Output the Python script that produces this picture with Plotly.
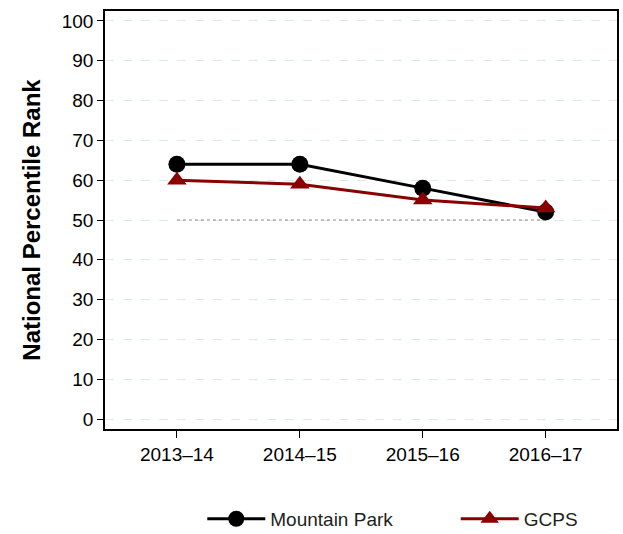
import plotly.graph_objects as go

years = ["2013\u201314", "2014\u201315", "2015\u201316", "2016\u201317"]
mountain_park = [64, 64, 58, 52]
gcps = [60, 59, 55, 53]
national_median = [50, 50, 50, 50]
y_ticks = [0, 10, 20, 30, 40, 50, 60, 70, 80, 90, 100]

fig = go.Figure()

# national median reference line
fig.add_trace(go.Scatter(
    x=years, y=national_median, mode="lines",
    line=dict(color="#888888", width=1.2, dash="dot"),
    showlegend=False, hoverinfo="skip",
))

fig.add_trace(go.Scatter(
    x=years, y=mountain_park, mode="lines+markers", name="Mountain Park",
    line=dict(color="#000000", width=3),
    marker=dict(symbol="circle", size=17, color="#000000"),
    legend="legend",
))

fig.add_trace(go.Scatter(
    x=years, y=gcps, mode="lines+markers", name="GCPS",
    line=dict(color="#8b0000", width=3),
    marker=dict(symbol="triangle-up", size=17, color="#8b0000"),
    legend="legend2",
))

legend_font = dict(family="Liberation Sans Narrow, Liberation Sans, sans-serif",
                   size=19, color="#231f20")

fig.update_layout(
    width=623, height=534,
    margin=dict(l=105, r=6, t=11, b=105, autoexpand=False),
    paper_bgcolor="white", plot_bgcolor="white",
    font=dict(family="Liberation Sans, Arial, sans-serif", color="#000000"),
    legend=dict(
        orientation="h", x=0.19, xanchor="left", y=-0.215, yanchor="middle",
        font=legend_font, itemwidth=58, bgcolor="rgba(0,0,0,0)",
    ),
    legend2=dict(
        orientation="h", x=0.685, xanchor="left", y=-0.215, yanchor="middle",
        font=legend_font, itemwidth=58, bgcolor="rgba(0,0,0,0)",
    ),
)

fig.update_xaxes(
    type="category", range=[-0.585, 3.58],
    showline=True, linecolor="#000000", linewidth=1.5, mirror=True,
    ticks="outside", ticklen=7, tickcolor="#000000",
    tickfont=dict(size=19), showgrid=False,
)

fig.update_yaxes(
    range=[-2.5, 102.5], tickvals=y_ticks,
    showline=True, linecolor="#000000", linewidth=1.5, mirror=True,
    ticks="outside", ticklen=6, tickcolor="#000000",
    tickfont=dict(size=19),
    showgrid=True, gridcolor="#dde9e5", gridwidth=1, griddash="dash",
    zeroline=False,
    title=dict(text="<b>National Percentile Rank</b>", font=dict(size=24), standoff=14),
)

fig.write_html("out.html")
